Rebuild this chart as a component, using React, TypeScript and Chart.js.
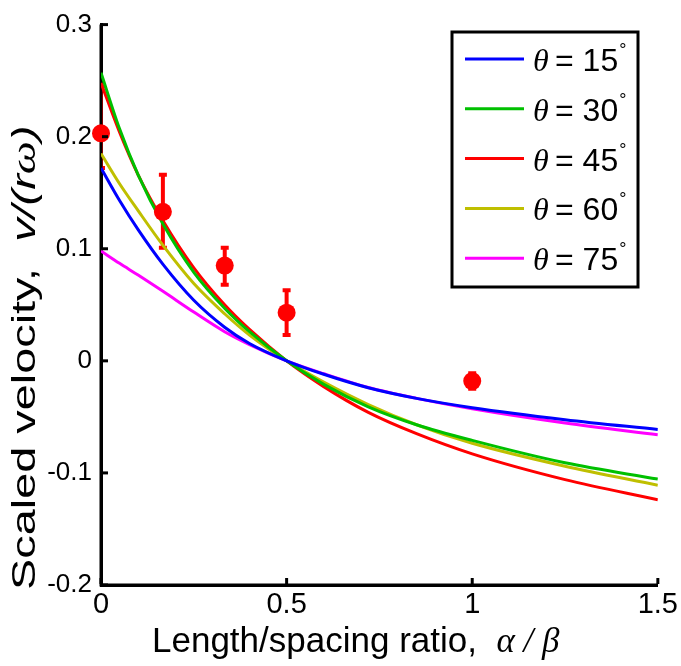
import React, { useEffect, useRef } from "react";
import { Chart, registerables } from "chart.js";

Chart.register(...registerables);

// ---- data ----
const curveX = [0, 0.05, 0.1, 0.167, 0.25, 0.333, 0.4, 0.5, 0.6, 0.72, 0.85, 1.0, 1.25, 1.5];
const theta15 = [0.172, 0.143, 0.117, 0.086, 0.054, 0.03, 0.0155, 0, -0.012, -0.024, -0.0335, -0.0418, -0.0525, -0.0613];
const theta30 = [0.257, 0.207, 0.166, 0.122, 0.079, 0.047, 0.026, 0, -0.021, -0.041, -0.057, -0.071, -0.091, -0.1055];
const theta45 = [0.248, 0.204, 0.166, 0.125, 0.083, 0.05, 0.028, 0, -0.023, -0.046, -0.065, -0.083, -0.106, -0.124];
const theta60 = [0.185, 0.158, 0.134, 0.103, 0.069, 0.042, 0.023, 0, -0.019, -0.039, -0.057, -0.0735, -0.094, -0.111];
const theta75 = [0.098, 0.087, 0.0765, 0.062, 0.0435, 0.026, 0.0145, 0, -0.0115, -0.0238, -0.0335, -0.0428, -0.0555, -0.066];
const seriesValues = [theta15, theta30, theta45, theta60, theta75];
const seriesLabels = ["15", "30", "45", "60", "75"];
const seriesColors = ["#0000ff", "#00c000", "#ff0000", "#bfbf00", "#ff00ff"];

const expX = [0, 0.1667, 0.3333, 0.5, 1.0];
const expY = [0.203, 0.133, 0.085, 0.043, -0.018];
const expLow = [0.172, 0.101, 0.068, 0.023, -0.025];
const expHigh = [0.245, 0.166, 0.101, 0.063, -0.011];

const xTicks = [0, 0.5, 1, 1.5];
const xTickLabels = ["0", "0.5", "1", "1.5"];
const yTicks = [-0.2, -0.1, 0, 0.1, 0.2, 0.3];
const yTickLabels = ["-0.2", "-0.1", "0", "0.1", "0.2", "0.3"];

const SANS = "'Liberation Sans', Arial, sans-serif";
const SERIF = "'Liberation Serif', 'Times New Roman', serif";

type Seg = { t: string; f: string };

function drawSegs(ctx: CanvasRenderingContext2D, segs: Seg[], x: number, y: number) {
  let cx = x;
  segs.forEach((s) => {
    ctx.font = s.f;
    ctx.fillText(s.t, cx, y);
    cx += ctx.measureText(s.t).width;
  });
  return cx;
}

const decorPlugin = {
  id: "decor",
  beforeDatasetsDraw(chart: any) {
    const ctx: CanvasRenderingContext2D = chart.ctx;
    const xs = chart.scales.x;
    const ys = chart.scales.y;
    const { left, top, right, bottom } = chart.chartArea;
    ctx.save();
    ctx.beginPath();
    ctx.rect(left, top - 2, right - left, bottom - top + 4);
    ctx.clip();
    ctx.strokeStyle = "#ff0000";
    ctx.lineWidth = 4;
    expX.forEach((xv, i) => {
      const px = xs.getPixelForValue(xv);
      const lo = ys.getPixelForValue(expLow[i]);
      const hi = ys.getPixelForValue(expHigh[i]);
      ctx.beginPath();
      ctx.moveTo(px, lo);
      ctx.lineTo(px, hi);
      ctx.moveTo(px - 4, lo);
      ctx.lineTo(px + 4, lo);
      ctx.moveTo(px - 4, hi);
      ctx.lineTo(px + 4, hi);
      ctx.stroke();
    });
    ctx.restore();
    // axis lines over the error bars, under the marks
    ctx.save();
    ctx.strokeStyle = "#000";
    ctx.lineWidth = 3;
    ctx.beginPath();
    ctx.moveTo(left, top);
    ctx.lineTo(left, bottom);
    ctx.lineTo(right, bottom);
    ctx.stroke();
    ctx.restore();
  },
  afterDraw(chart: any) {
    const ctx: CanvasRenderingContext2D = chart.ctx;
    const { left, bottom } = chart.chartArea;
    const xs = chart.scales.x;
    const ys = chart.scales.y;
    ctx.save();
    ctx.strokeStyle = "#000";
    ctx.lineWidth = 3;
    // inward tick marks
    yTicks.forEach((v) => {
      const y = ys.getPixelForValue(v);
      ctx.beginPath();
      ctx.moveTo(left + 1, y);
      ctx.lineTo(left + 7, y);
      ctx.stroke();
    });
    xTicks.forEach((v) => {
      const x = xs.getPixelForValue(v);
      ctx.beginPath();
      ctx.moveTo(x, bottom - 1);
      ctx.lineTo(x, bottom - 7);
      ctx.stroke();
    });

    ctx.fillStyle = "#000";
    ctx.textBaseline = "alphabetic";
    ctx.textAlign = "left";
    // x title
    drawSegs(
      ctx,
      [
        { t: "Length/spacing ratio,  ", f: `35px ${SANS}` },
        { t: "\u03b1 / \u03b2", f: `italic 35px ${SERIF}` },
      ],
      152,
      652
    );
    // y title
    ctx.save();
    ctx.translate(35, 590);
    ctx.rotate(-Math.PI / 2);
    ctx.scale(1.42, 1);
    drawSegs(
      ctx,
      [
        { t: "Scaled velocity,  ", f: `33px ${SANS}` },
        { t: "v/(r", f: `italic 33px ${SANS}` },
        { t: "\u03c9", f: `italic 33px ${SERIF}` },
        { t: ")", f: `italic 33px ${SANS}` },
      ],
      0,
      0
    );
    ctx.restore();

    // legend
    const bx = 452, by = 32, bw = 186, bh = 255;
    ctx.fillStyle = "#fff";
    ctx.fillRect(bx, by, bw, bh);
    ctx.strokeStyle = "#000";
    ctx.lineWidth = 3;
    ctx.strokeRect(bx, by, bw, bh);
    seriesLabels.forEach((lab, i) => {
      const yc = 59 + i * 49.8;
      ctx.strokeStyle = seriesColors[i];
      ctx.lineWidth = 3;
      ctx.beginPath();
      ctx.moveTo(465, yc);
      ctx.lineTo(524, yc);
      ctx.stroke();
      ctx.fillStyle = "#000";
      ctx.font = `italic 32px ${SERIF}`;
      ctx.fillText("\u03b8", 533, yc + 12);
      ctx.font = `32px ${SANS}`;
      ctx.fillText("= " + lab, 555, yc + 12);
      const w = ctx.measureText("= " + lab).width;
      ctx.font = `18px ${SANS}`;
      ctx.fillText("\u00b0", 555 + w + 1, yc - 3);
    });
    ctx.restore();
  },
};

export default function App() {
  const ref = useRef<HTMLCanvasElement | null>(null);
  useEffect(() => {
    if (!ref.current) return;
    const datasets: any[] = [
      {
        label: "data",
        data: expX.map((x, i) => ({ x, y: expY[i] })),
        showLine: false,
        pointRadius: 9,
        pointBackgroundColor: "#ff0000",
        pointBorderColor: "#ff0000",
        pointBorderWidth: 0,
        borderColor: "#ff0000",
        backgroundColor: "#ff0000",
        clip: false,
      },
    ];
    seriesValues.forEach((vals, i) => {
      datasets.push({
        label: "\u03b8 = " + seriesLabels[i],
        data: curveX.map((x, j) => ({ x, y: vals[j] })),
        borderColor: seriesColors[i],
        backgroundColor: seriesColors[i],
        borderWidth: 3,
        pointRadius: 0,
        cubicInterpolationMode: "monotone",
        fill: false,
      });
    });
    const chart = new Chart(ref.current, {
      type: "line",
      data: { datasets },
      options: {
        animation: false,
        responsive: false,
        maintainAspectRatio: false,
        layout: { padding: { top: 12, right: 21, left: 0, bottom: 0 } },
        plugins: { legend: { display: false }, tooltip: { enabled: false } },
        scales: {
          x: {
            type: "linear",
            min: 0,
            max: 1.5,
            afterBuildTicks: (s: any) => {
              s.ticks = xTicks.map((v) => ({ value: v }));
            },
            afterFit: (s: any) => {
              s.height = 81;
            },
            grid: { display: false, drawTicks: false },
            border: { display: true, color: "#000", width: 3 },
            ticks: {
              color: "#000",
              font: { size: 29, family: SANS },
              padding: 3,
              maxRotation: 0,
              autoSkip: false,
              callback: (_v: any, i: number) => xTickLabels[i],
            },
          },
          y: {
            type: "linear",
            min: -0.2,
            max: 0.3,
            afterBuildTicks: (s: any) => {
              s.ticks = yTicks.map((v) => ({ value: v }));
            },
            afterFit: (s: any) => {
              s.width = 101;
            },
            grid: { display: false, drawTicks: false },
            border: { display: true, color: "#000", width: 3 },
            ticks: {
              color: "#000",
              font: { size: 26, family: SANS },
              padding: 9,
              autoSkip: false,
              callback: (_v: any, i: number) => yTickLabels[i],
            },
          },
        },
      },
      plugins: [decorPlugin],
    });
    return () => chart.destroy();
  }, []);
  return (
    <div style={{ position: "fixed", left: 0, top: 0, width: 681, height: 666, background: "#fff" }}>
      <canvas ref={ref} width={681} height={666} style={{ display: "block", width: 681, height: 666 }} />
    </div>
  );
}
